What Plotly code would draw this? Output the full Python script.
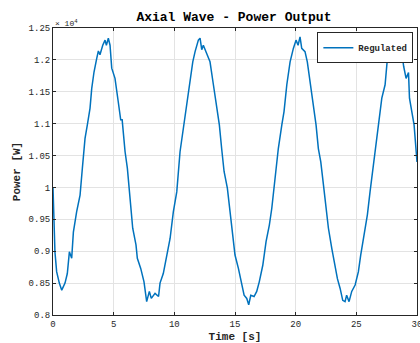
import plotly.graph_objects as go

time_s = [0.0, 0.08, 0.16, 0.3, 0.52, 0.72, 0.99, 1.18, 1.35, 1.54, 1.68, 1.95, 2.23, 2.42, 2.64, 2.83,
          3.05, 3.19, 3.38, 3.6, 3.74, 3.87, 4.1, 4.29, 4.4, 4.56, 4.7, 4.84, 5.11, 5.38, 5.58, 5.7,
          5.94, 6.13, 6.35, 6.57, 6.84, 6.95, 7.23, 7.5, 7.72, 7.94, 8.1, 8.41, 8.7, 8.82, 9.09, 9.37,
          9.65, 9.92, 10.2, 10.47, 10.74, 11.02, 11.24, 11.52, 11.71, 11.98, 12.12, 12.26, 12.39, 12.67,
          12.94, 13.22, 13.49, 13.71, 13.9, 14.1, 14.37, 14.59, 14.81, 15.0, 15.28, 15.5, 15.75, 15.97,
          16.13, 16.3, 16.57, 16.79, 17.0, 17.29, 17.56, 17.83, 18.03, 18.3, 18.57, 18.86, 19.04, 19.27,
          19.54, 19.81, 20.03, 20.2, 20.36, 20.5, 20.77, 20.96, 21.19, 21.46, 21.68, 21.87, 22.07, 22.29,
          22.51, 22.7, 22.98, 23.17, 23.44, 23.66, 23.88, 24.07, 24.2, 24.4, 24.62, 24.9, 25.17, 25.36,
          25.64, 25.91, 26.13, 26.41, 26.63, 26.82, 27.1, 27.37, 27.56, 27.78, 28.0, 28.2, 28.45, 28.6,
          28.74, 28.9, 29.1, 29.3, 29.38, 29.56, 29.76, 30.0]
power_e4 = [1.0, 0.92, 0.899, 0.868, 0.85, 0.839, 0.85, 0.865, 0.899, 0.889, 0.93, 0.962, 0.988, 1.03, 1.077, 1.098,
            1.124, 1.155, 1.181, 1.202, 1.214, 1.208, 1.223, 1.231, 1.223, 1.234, 1.223, 1.187, 1.171, 1.134, 1.106, 1.106,
            1.056, 1.03, 0.988, 0.936, 0.91, 0.889, 0.873, 0.852, 0.821, 0.837, 0.826, 0.834, 0.829, 0.85, 0.865, 0.894,
            0.92, 0.962, 0.993, 1.056, 1.093, 1.129, 1.161, 1.197, 1.213, 1.231, 1.234, 1.216, 1.223, 1.208,
            1.197, 1.161, 1.124, 1.098, 1.061, 1.025, 0.999, 0.962, 0.92, 0.894, 0.873, 0.852, 0.831, 0.826,
            0.816, 0.831, 0.829, 0.837, 0.852, 0.878, 0.915, 0.941, 0.967, 1.014, 1.061, 1.098, 1.119, 1.161,
            1.197, 1.218, 1.231, 1.223, 1.236, 1.218, 1.213, 1.197, 1.166, 1.124, 1.098, 1.061, 1.04, 1.004,
            0.967, 0.936, 0.904, 0.883, 0.857, 0.842, 0.823, 0.821, 0.831, 0.821, 0.837, 0.847, 0.868, 0.894,
            0.925, 0.957, 0.993, 1.035, 1.067, 1.103, 1.14, 1.161, 1.202, 1.218, 1.223, 1.228, 1.225, 1.222,
            1.213, 1.19, 1.171, 1.18, 1.14, 1.119, 1.098, 1.04]

x_ticks = [0, 5, 10, 15, 20, 25, 30]
y_ticks = [0.8, 0.85, 0.9, 0.95, 1.0, 1.05, 1.1, 1.15, 1.2, 1.25]
y_tick_text = ["0.8", "0.85", "0.9", "0.95", "1", "1.05", "1.1", "1.15", "1.2", "1.25"]

FONT = "Liberation Mono, Courier New, monospace"

fig = go.Figure()
fig.add_trace(go.Scatter(x=time_s, y=power_e4, mode="lines", name="<b>Regulated</b>",
                         line=dict(color="#0072BD", width=1.5)))

axis_common = dict(showline=True, linecolor="#262626", linewidth=1, mirror="ticks",
                   ticks="inside", ticklen=3, tickcolor="#262626",
                   showgrid=True, gridcolor="#e3e3e3", gridwidth=1, zeroline=False,
                   automargin=False,
                   tickfont=dict(family=FONT, size=9, color="#262626"))

fig.update_layout(
    width=420, height=343,
    margin=dict(l=53, r=3, t=28, b=28, autoexpand=False),
    paper_bgcolor="white", plot_bgcolor="white",
    title=dict(text="<b>Axial Wave - Power Output</b>", x=0.557, xanchor="center",
               y=0.952, yanchor="middle", font=dict(family=FONT, size=13, color="black")),
    xaxis=dict(range=[0, 30], tickvals=x_ticks, ticklabeloverflow="allow",
               title=dict(text="<b>Time [s]</b>", font=dict(family=FONT, size=11, color="#262626"), standoff=3),
               **axis_common),
    yaxis=dict(range=[0.8, 1.25], tickvals=y_ticks, ticktext=y_tick_text,
               title=dict(text="<b>Power [W]</b>", font=dict(family=FONT, size=11, color="#262626"), standoff=5),
               **axis_common),
    legend=dict(x=0.99, y=0.985, xanchor="right", yanchor="top",
                bgcolor="white", bordercolor="#262626", borderwidth=1,
                font=dict(family=FONT, size=9, color="#262626"),
                itemwidth=30, tracegroupgap=0),
    showlegend=True,
    annotations=[dict(text="× 10<sup>4</sup>", xref="paper", yref="paper", x=0, y=1.0,
                      xanchor="left", yanchor="bottom", showarrow=False, yshift=-2,
                      font=dict(family=FONT, size=8, color="#262626"))],
)

fig.write_html("out.html")
